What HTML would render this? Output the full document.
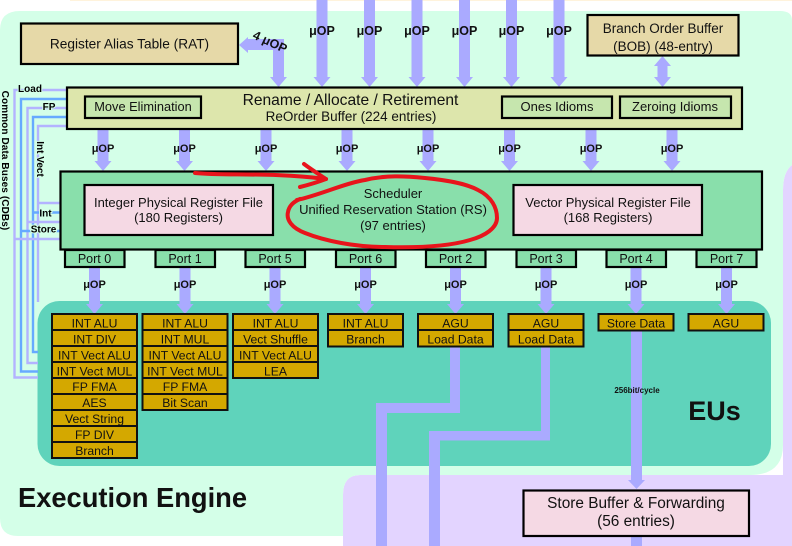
<!DOCTYPE html>
<html><head><meta charset="utf-8"><style>
html,body{margin:0;padding:0;background:#fff}
svg{display:block;font-family:"Liberation Sans",sans-serif}
text{fill:#111;text-anchor:middle}
.u{font-weight:bold;font-size:12.5px;fill:#000}
.v{font-weight:bold;font-size:11px;fill:#000}
.c{font-size:12.2px;fill:#221a00}
.p{font-size:12.5px}
.b{stroke:#000;stroke-width:2.2}
.cell{fill:#d4a800;stroke:#111;stroke-width:2}
.lab{font-weight:bold;font-size:10px;fill:#000;paint-order:stroke;stroke:#d4ffe8;stroke-width:2px}
</style></head><body>
<svg width="792" height="546" viewBox="0 0 792 546" xmlns="http://www.w3.org/2000/svg">
<rect x="70" y="0" width="722" height="1" fill="#fff3dc"/>
<!-- purple -->
<path d="M792,165 Q783,172 783,190 L783,475 L360,475 Q343,475 343,495 L343,546 L792,546 Z" fill="#e3d4ff"/>
<!-- green -->
<path d="M20,11 L780,11 Q792,11 792,20 L792,165 Q783,172 783,190 L783,445 Q783,475 750,475 L360,475 Q343,475 343,495 L343,536 L18,536 Q0,536 0,518 L0,30 Q0,11 20,11 Z" fill="#d4ffe8"/>
<!-- EU -->
<rect x="37.500" y="301" width="733.500" height="165" rx="22" fill="#5fd3bb"/>
<!-- CDB lines -->
<g fill="none" stroke-width="2.400">
<path d="M67,90 H14.500 V377.500 H38" stroke="#b3b3ff"/>
<path d="M67,99 H21 V371.500 H38" stroke="#66aaff"/>
<path d="M67,108 H27.500 V363 H38" stroke="#b3b3ff"/>
<path d="M67,117 H33 V352 H38" stroke="#66aaff"/>
<path d="M67,126 H38 V302" stroke="#b3b3ff"/>
<path d="M38,203 H61" stroke="#b3b3ff"/>
<path d="M33,212.500 H61" stroke="#66aaff"/>
<path d="M27.500,222 H61" stroke="#b3b3ff"/>
<path d="M21,231 H61" stroke="#66aaff"/>
<path d="M14.500,239 H61" stroke="#b3b3ff"/>
</g>
<!-- arrows -->
<g fill="#aaaaff">
<path d="M239,45 L248,37 V39 H284 V77 H287 L278.500,87 L270,77 H273 V50 H248 V53 Z"/>
<path d="M316.500,0 H327.500 V77 H330.500 L322,87 L313.500,77 H316.500 Z"/>
<path d="M364,0 H375 V77 H378 L369.500,87 L361,77 H364 Z"/>
<path d="M411.500,0 H422.500 V77 H425.500 L417,87 L408.500,77 H411.500 Z"/>
<path d="M459,0 H470 V77 H473 L464.500,87 L456,77 H459 Z"/>
<path d="M506,0 H517 V77 H520 L511.500,87 L503,77 H506 Z"/>
<path d="M553.500,0 H564.500 V77 H567.500 L559,87 L550.500,77 H553.500 Z"/>
<path d="M662.500,56 L671,66 H667.500 V77 H671 L662.500,87 L654,77 H657.500 V66 H654 Z"/>
<path d="M97.500,129 H108.500 V161 H111.500 L103,171 L94.500,161 H97.500 Z"/>
<path d="M179,129 H190 V161 H193 L184.500,171 L176,161 H179 Z"/>
<path d="M260.500,129 H271.500 V161 H274.500 L266,171 L257.500,161 H260.500 Z"/>
<path d="M341.500,129 H352.500 V161 H355.500 L347,171 L338.500,161 H341.500 Z"/>
<path d="M422.500,129 H433.500 V161 H436.500 L428,171 L419.500,161 H422.500 Z"/>
<path d="M504,129 H515 V161 H518 L509.500,171 L501,161 H504 Z"/>
<path d="M585.500,129 H596.500 V161 H599.500 L591,171 L582.500,161 H585.500 Z"/>
<path d="M666.500,129 H677.500 V161 H680.500 L672,171 L663.500,161 H666.500 Z"/>
<path d="M89,267 H100 V304 H103 L94.500,314 L86,304 H89 Z"/>
<path d="M179.500,267 H190.500 V304 H193.500 L185,314 L176.500,304 H179.500 Z"/>
<path d="M269.500,267 H280.500 V304 H283.500 L275,314 L266.500,304 H269.500 Z"/>
<path d="M360,267 H371 V304 H374 L365.500,314 L357,304 H360 Z"/>
<path d="M450,267 H461 V304 H464 L455.500,314 L447,304 H450 Z"/>
<path d="M540.500,267 H551.500 V304 H554.500 L546,314 L537.500,304 H540.500 Z"/>
<path d="M630.500,267 H641.500 V304 H644.500 L636,314 L627.500,304 H630.500 Z"/>
<path d="M721,267 H732 V304 H735 L726.500,314 L718,304 H721 Z"/>
<path d="M450,346 H460 V413 H387 V546 H376 V403 H450 Z"/>
<path d="M541,346 H550 V440.500 H440 V546 H429 V431 H541 Z"/>
<path d="M631,331 H642 V480 H645 L636.500,489 L628,480 H631 Z"/>
<rect x="631" y="536" width="11" height="10"/>
</g>
<!-- top boxes -->
<rect class="b" x="21" y="23.500" width="217" height="40.500" fill="#e6d9a8"/>
<text x="129.500" y="48.500" font-size="13.700">Register Alias Table (RAT)</text>
<rect class="b" x="587.500" y="15" width="151" height="40.500" fill="#e6d9a8"/>
<text x="663" y="33" font-size="13.500">Branch Order Buffer</text>
<text x="663" y="51" font-size="13.500">(BOB) (48-entry)</text>
<!-- ROB -->
<rect class="b" x="67" y="87.500" width="675" height="41.500" fill="#dde6ac"/>
<text x="350.500" y="105" font-size="15.600">Rename / Allocate / Retirement</text>
<text x="351" y="121" font-size="13.500">ReOrder Buffer (224 entries)</text>
<rect class="b" x="85" y="96.500" width="116" height="21.500" fill="#c6e6ae"/>
<text x="143" y="111" font-size="12.800">Move Elimination</text>
<rect class="b" x="502" y="96.500" width="110" height="21.500" fill="#c6e6ae"/>
<text x="557" y="111" font-size="13">Ones Idioms</text>
<rect class="b" x="620" y="96.500" width="111" height="21.500" fill="#c6e6ae"/>
<text x="675" y="111" font-size="13">Zeroing Idioms</text>
<!-- scheduler -->
<rect class="b" x="60.500" y="171.500" width="701.500" height="78" fill="#89dfab"/>
<rect class="b" x="84.500" y="185" width="188.500" height="50" fill="#f5d9e4"/>
<text x="178.500" y="207" font-size="13">Integer Physical Register File</text>
<text x="178.500" y="222" font-size="13">(180 Registers)</text>
<rect class="b" x="513.500" y="185" width="188.500" height="50" fill="#f5d9e4"/>
<text x="608" y="207" font-size="13">Vector Physical Register File</text>
<text x="608" y="222" font-size="13">(168 Registers)</text>
<text x="393" y="198" font-size="13">Scheduler</text>
<text x="393" y="214" font-size="13">Unified Reservation Station (RS)</text>
<text x="393" y="230" font-size="13">(97 entries)</text>
<!-- ports -->
<g class="b" fill="#89dfab">
<rect x="65" y="250" width="59.500" height="17"/>
<rect x="155.500" y="250" width="59.500" height="17"/>
<rect x="245.500" y="250" width="59.500" height="17"/>
<rect x="336" y="250" width="59.500" height="17"/>
<rect x="426" y="250" width="59.500" height="17"/>
<rect x="516.500" y="250" width="59.500" height="17"/>
<rect x="606.500" y="250" width="59.500" height="17"/>
<rect x="696.500" y="250" width="60" height="17"/>
</g>
<g class="p">
<text x="94.500" y="263">Port 0</text><text x="185" y="263">Port 1</text><text x="275" y="263">Port 5</text><text x="365.500" y="263">Port 6</text><text x="455.500" y="263">Port 2</text><text x="546" y="263">Port 3</text><text x="636" y="263">Port 4</text><text x="726.500" y="263">Port 7</text>
</g>
<!-- cells -->
<g class="cell">
<rect x="52" y="314" width="85" height="16"/><rect x="52" y="330" width="85" height="16"/><rect x="52" y="346" width="85" height="16"/><rect x="52" y="362" width="85" height="16"/><rect x="52" y="378" width="85" height="16"/><rect x="52" y="394" width="85" height="16"/><rect x="52" y="410" width="85" height="16"/><rect x="52" y="426" width="85" height="16"/><rect x="52" y="442" width="85" height="16"/>
<rect x="142.500" y="314" width="85" height="16"/><rect x="142.500" y="330" width="85" height="16"/><rect x="142.500" y="346" width="85" height="16"/><rect x="142.500" y="362" width="85" height="16"/><rect x="142.500" y="378" width="85" height="16"/><rect x="142.500" y="394" width="85" height="16"/>
<rect x="233" y="314" width="85" height="16"/><rect x="233" y="330" width="85" height="16"/><rect x="233" y="346" width="85" height="16"/><rect x="233" y="362" width="85" height="16"/>
<rect x="328" y="314" width="75" height="16"/><rect x="328" y="330" width="75" height="16.500"/>
<rect x="418" y="314" width="75" height="16"/><rect x="418" y="330" width="75" height="16.500"/>
<rect x="508.500" y="314" width="75" height="16"/><rect x="508.500" y="330" width="75" height="16.500"/>
<rect x="598.500" y="314" width="75" height="16.500"/>
<rect x="688.500" y="314" width="75" height="16.500"/>
</g>
<g class="c">
<text x="94.500" y="327.500">INT ALU</text><text x="94.500" y="343.500">INT DIV</text><text x="94.500" y="359.500">INT Vect ALU</text><text x="94.500" y="375.500">INT Vect MUL</text><text x="94.500" y="391">FP FMA</text><text x="94.500" y="407">AES</text><text x="94.500" y="423">Vect String</text><text x="94.500" y="439">FP DIV</text><text x="94.500" y="455">Branch</text>
<text x="185" y="327.500">INT ALU</text><text x="185" y="343.500">INT MUL</text><text x="185" y="359.500">INT Vect ALU</text><text x="185" y="375.500">INT Vect MUL</text><text x="185" y="391">FP FMA</text><text x="185" y="407">Bit Scan</text>
<text x="275.500" y="327.500">INT ALU</text><text x="275.500" y="343.500">Vect Shuffle</text><text x="275.500" y="359.500">INT Vect ALU</text><text x="275.500" y="375.500">LEA</text>
<text x="365.500" y="327.500">INT ALU</text><text x="365.500" y="343.500">Branch</text>
<text x="455.500" y="327.500">AGU</text><text x="455.500" y="343.500">Load Data</text>
<text x="546" y="327.500">AGU</text><text x="546" y="343.500">Load Data</text>
<text x="636" y="327.500">Store Data</text>
<text x="726" y="327.500">AGU</text>
</g>
<!-- store buffer -->
<rect class="b" x="523.500" y="490.500" width="225.500" height="45.500" fill="#f5d9e4"/>
<text x="636" y="508" font-size="15.400">Store Buffer &amp; Forwarding</text>
<text x="636" y="526" font-size="15.400">(56 entries)</text>
<!-- labels -->
<g class="u">
<text x="322" y="35">μOP</text><text x="369.500" y="35">μOP</text><text x="417" y="35">μOP</text><text x="464.500" y="35">μOP</text><text x="511.500" y="35">μOP</text><text x="559" y="35">μOP</text>
<text x="270" y="46" transform="rotate(25 270 42)">4 μOP</text>
</g>
<g class="v">
<text x="103" y="152">μOP</text><text x="184.500" y="152">μOP</text><text x="266" y="152">μOP</text><text x="347" y="152">μOP</text><text x="428" y="152">μOP</text><text x="509.500" y="152">μOP</text><text x="591" y="152">μOP</text><text x="672" y="152">μOP</text>
<text x="94.500" y="288">μOP</text><text x="185" y="288">μOP</text><text x="275" y="288">μOP</text><text x="365.500" y="288">μOP</text><text x="455.500" y="288">μOP</text><text x="546" y="288">μOP</text><text x="636" y="288">μOP</text><text x="726.500" y="288">μOP</text>
</g>
<g>
<text class="lab" x="30" y="92">Load</text>
<text class="lab" x="49" y="110">FP</text>
<text class="lab" x="45.500" y="216.500">Int</text>
<text class="lab" x="43.500" y="232.500">Store</text>
<text class="lab" transform="translate(37 159) rotate(90)">Int Vect</text>
<text class="lab" style="stroke:none;letter-spacing:.1px" transform="translate(2 160.500) rotate(90)">Common Data Buses (CDBs)</text>
</g>
<text x="637" y="393" font-size="8" font-weight="bold" fill="#222">256bit/cycle</text>
<text x="714.500" y="420" font-size="27" font-weight="bold" fill="#000">EUs</text>
<text x="132.500" y="507" font-size="27.300" font-weight="bold" fill="#000">Execution Engine</text>
<!-- red -->
<g fill="none" stroke="#e8141c" stroke-width="4" stroke-linecap="round" stroke-linejoin="round">
<path d="M195,173 C225,176 270,172 326,179"/>
<path d="M304,164 C312,170 320,175 326,179 C318,182 308,185 300,187"/>
<path d="M297,200 C320,195 345,183 365,180 C385,175 405,176 425,178 C445,180 465,183 478,190 C492,197 497,208 497,218 C497,228 485,236 470,240 C450,246 420,248 385,247 C355,247 325,241 305,233 C292,228 286,220 288,212 C289,206 293,202 300,199"/>
</g>
</svg>
</body></html>
